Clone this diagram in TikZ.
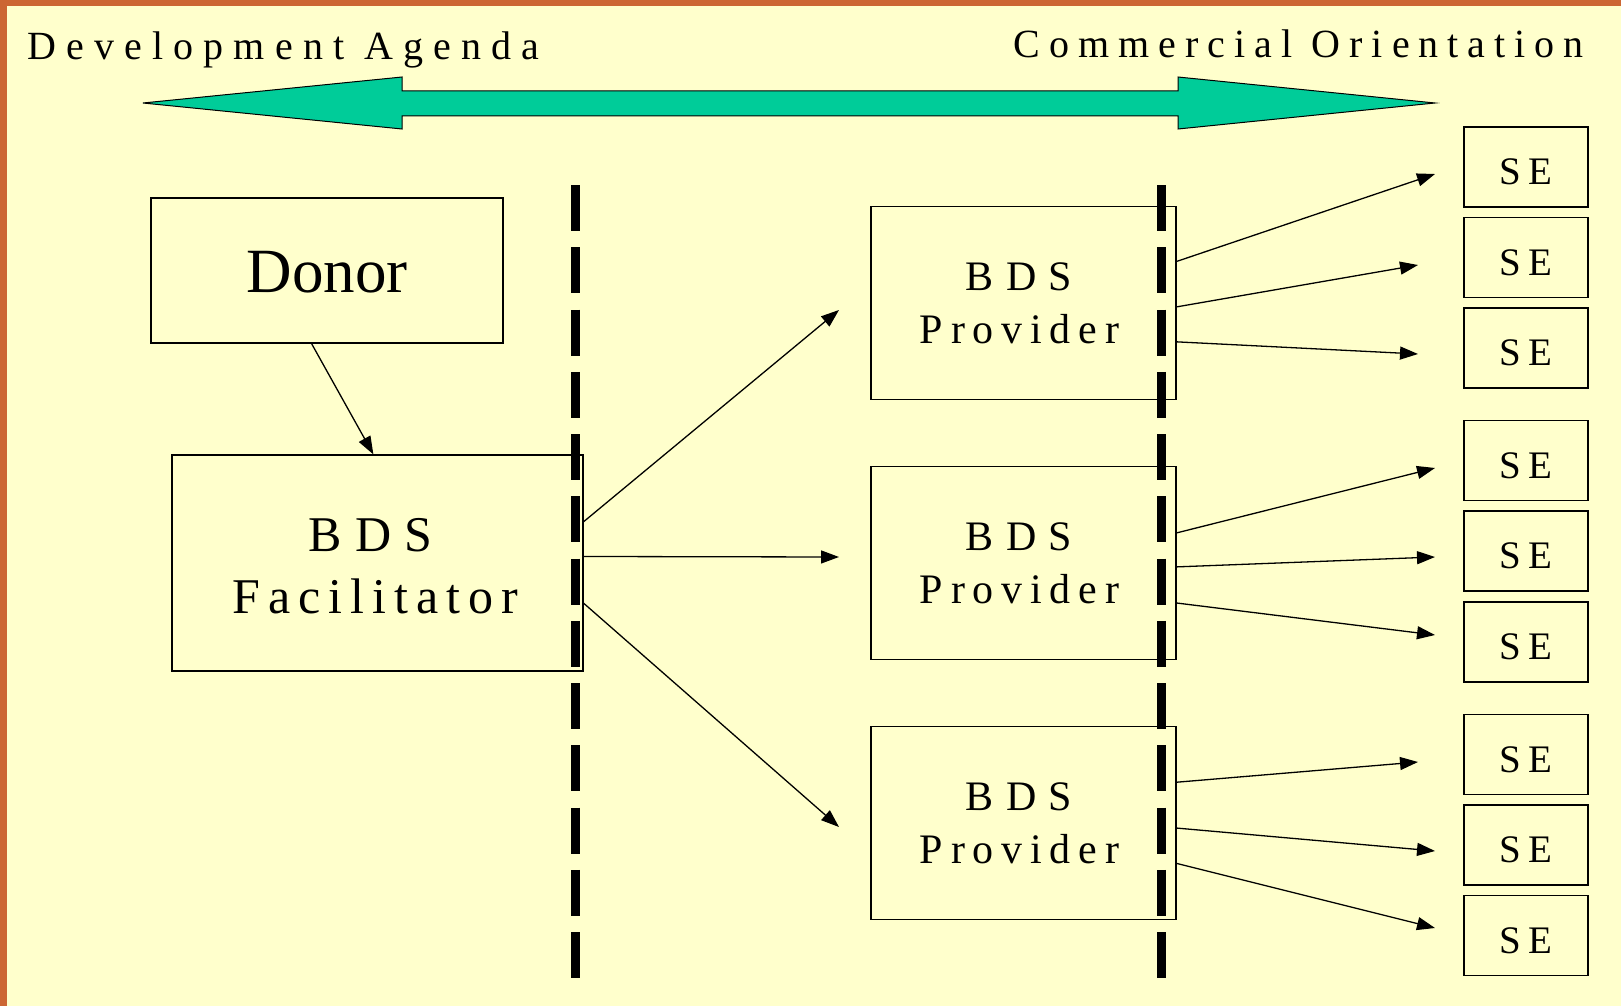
\documentclass[tikz,border=0pt]{standalone}
\usepackage{fontspec}
\setmainfont{Liberation Serif}
\usetikzlibrary{arrows.meta,calc}
\definecolor{bgyellow}{RGB}{255,255,204}
\definecolor{frameorange}{RGB}{204,102,51}
\definecolor{arrowgreen}{RGB}{0,204,153}
\newcommand{\provtext}{{\addfontfeatures{LetterSpace=29}BDS}\hspace*{1pt}\\Provider}
\begin{document}
\begin{tikzpicture}[x=1pt,y=-1pt,
  box/.style={draw=black,line width=1.2pt,inner sep=0pt,anchor=center},
  sebox/.style={box,minimum width=124pt,minimum height=80pt,
    font={\fontsize{39}{39}\selectfont\addfontfeatures{LetterSpace=18.5}}},
  provlabel/.style={inner sep=0pt,align=center,xshift=-4pt,yshift=-0.5pt,
    font={\fontsize{42}{53.3}\selectfont\addfontfeatures{LetterSpace=18.5}}},
  provbox/.style={box,minimum width=305pt,minimum height=193pt,
    label={[provlabel]center:\provtext}},
  conn/.style={-{Triangle[length=18pt,width=13pt]},line width=1.3pt},
  divider/.style={line width=9pt,dash pattern=on 46pt off 16.25pt},
  heading/.style={inner sep=0pt,font={\fontsize{40}{40}\selectfont\addfontfeatures{LetterSpace=#1}}}]
\useasboundingbox (0,0) rectangle (1621,1006);
\fill[bgyellow] (0,0) rectangle (1621,1006);
\fill[frameorange] (0,0) rectangle (1621,6);
\fill[frameorange] (0,0) rectangle (7,1006);

% headings
\node[heading=25.4,anchor=base west] (dev) at (27,60) {Development Agenda};
\node[heading=22.5,anchor=base east] (com) at (1584,57.3) {Commercial Orientation};

% double arrow
\filldraw[fill=arrowgreen,draw=black,line width=1pt]
  (143,103) -- (402,77) -- (402,91) -- (1178,91) -- (1178,77) -- (1435,103)
  -- (1178,129) -- (1178,116) -- (402,116) -- (402,129) -- cycle;

% boxes
\node[box,line width=2pt,minimum width=352pt,minimum height=145pt,
  font=\fontsize{63}{63}\selectfont] (donor) at (327,270.5)
  {\raisebox{-1.5pt}[\height][\depth]{Donor}};
\node[box,minimum width=411pt,minimum height=216pt,
  label={[inner sep=0pt,align=center,xshift=-2.5pt,yshift=-3pt,
    font={\fontsize{50}{61.5}\selectfont\addfontfeatures{LetterSpace=16}}]center:
    {\addfontfeatures{LetterSpace=27}BDS}\hspace*{9pt}\\Facilitator}] (fac) at (377.5,563) {};

\node[provbox] (p1) at (1023.5,303) {};
\node[provbox] (p2) at (1023.5,563) {};
\node[provbox] (p3) at (1023.5,823) {};

\node[sebox] (se1) at (1526,167) {\raisebox{-5pt}[\height][\depth]{SE}};
\node[sebox] (se2) at (1526,257.5) {\raisebox{-5pt}[\height][\depth]{SE}};
\node[sebox] (se3) at (1526,348) {\raisebox{-5pt}[\height][\depth]{SE}};
\node[sebox] (se4) at (1526,460.5) {\raisebox{-5pt}[\height][\depth]{SE}};
\node[sebox] (se5) at (1526,551) {\raisebox{-5pt}[\height][\depth]{SE}};
\node[sebox] (se6) at (1526,642) {\raisebox{-5pt}[\height][\depth]{SE}};
\node[sebox] (se7) at (1526,754.5) {\raisebox{-5pt}[\height][\depth]{SE}};
\node[sebox] (se8) at (1526,845) {\raisebox{-5pt}[\height][\depth]{SE}};
\node[sebox] (se9) at (1526,935.5) {\raisebox{-5pt}[\height][\depth]{SE}};

% arrow end points
\coordinate (fa) at (839,310);
\coordinate (fb) at (839,557);
\coordinate (fc) at (839,827);
\coordinate (t1a) at (1435,174);
\coordinate (t1b) at (1418,265);
\coordinate (t1c) at (1418,354);
\coordinate (t2a) at (1435,468);
\coordinate (t2b) at (1435,557);
\coordinate (t2c) at (1435,635);
\coordinate (t3a) at (1418,762);
\coordinate (t3b) at (1435,851);
\coordinate (t3c) at (1435,928);

% connectors
\draw[conn] ($(donor.south west)!0.457!(donor.south east)$) -- ($(fac.north west)!0.49!(fac.north east)$);
\draw[conn] ($(fac.north east)!0.31!(fac.south east)$) -- (fa);
\draw[conn] ($(fac.north east)!0.47!(fac.south east)$) -- (fb);
\draw[conn] ($(fac.north east)!0.685!(fac.south east)$) -- (fc);

\draw[conn] ($(p1.north east)!0.286!(p1.south east)$) -- (t1a);
\draw[conn] ($(p1.north east)!0.52!(p1.south east)$) -- (t1b);
\draw[conn] ($(p1.north east)!0.70!(p1.south east)$) -- (t1c);
\draw[conn] ($(p2.north east)!0.345!(p2.south east)$) -- (t2a);
\draw[conn] ($(p2.north east)!0.52!(p2.south east)$) -- (t2b);
\draw[conn] ($(p2.north east)!0.706!(p2.south east)$) -- (t2c);
\draw[conn] ($(p3.north east)!0.29!(p3.south east)$) -- (t3a);
\draw[conn] ($(p3.north east)!0.526!(p3.south east)$) -- (t3b);
\draw[conn] ($(p3.north east)!0.708!(p3.south east)$) -- (t3c);

% dashed dividers
\draw[divider] (575.5,185) -- (575.5,978);
\draw[divider] (1161.5,185) -- (1161.5,978);
\end{tikzpicture}
\end{document}
